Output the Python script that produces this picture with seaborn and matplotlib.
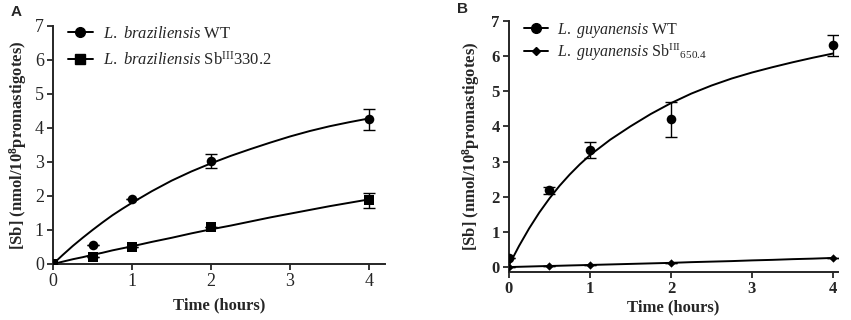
import numpy as np
import matplotlib
matplotlib.use("Agg")
import matplotlib.pyplot as plt
import seaborn as sns
from matplotlib.lines import Line2D

# measured points (mean, sem)
t = [0, 0.5, 1, 2, 4]
a_wt = [0.0, 0.55, 1.92, 3.03, 4.25]
a_wt_err = [0.0, 0.0, 0.0, 0.2, 0.3]
a_sb = [0.0, 0.2, 0.5, 1.1, 1.88]
a_sb_err = [0.0, 0.0, 0.0, 0.0, 0.22]
b_wt = [0.27, 2.18, 3.33, 4.2, 6.3]
b_wt_err = [0.0, 0.1, 0.22, 0.5, 0.31]
b_sb = [0.0, 0.03, 0.05, 0.13, 0.26]
b_sb_err = [0.0, 0.0, 0.0, 0.0, 0.0]

# fitted curves
t_fit = [0, 0.125, 0.25, 0.375, 0.5, 0.625, 0.75, 0.875, 1,
         1.25, 1.5, 1.75, 2, 2.25, 2.5, 2.75, 3, 3.25, 3.5, 3.75, 4]
a_wt_fit = [0.0, 0.27, 0.53, 0.77, 1.0, 1.22, 1.43, 1.62, 1.8,
            2.14, 2.45, 2.72, 2.96, 3.18, 3.38, 3.57, 3.75, 3.91, 4.05, 4.17, 4.28]
a_sb_fit = [0.0, 0.07, 0.14, 0.2, 0.27, 0.33, 0.4, 0.46, 0.52,
            0.65, 0.77, 0.9, 1.02, 1.13, 1.25, 1.37, 1.48, 1.59, 1.7, 1.8, 1.9]
b_wt_fit = [0.05, 0.6, 1.1, 1.55, 1.95, 2.31, 2.63, 2.92, 3.18,
            3.62, 4.0, 4.35, 4.66, 4.93, 5.16, 5.36, 5.53, 5.68, 5.82, 5.95, 6.07]
b_sb_fit = [0.0, 0.008, 0.016, 0.024, 0.03, 0.038, 0.046, 0.053, 0.06,
            0.075, 0.09, 0.105, 0.12, 0.14, 0.155, 0.17, 0.19, 0.205, 0.225, 0.24, 0.26]

sns.set_style("ticks")
plt.rcParams['font.family'] = ['Liberation Serif', 'DejaVu Serif']
plt.rcParams['mathtext.fontset'] = 'custom'
plt.rcParams['mathtext.rm'] = 'Liberation Serif'
plt.rcParams['mathtext.it'] = 'Liberation Serif:italic'
plt.rcParams['mathtext.bf'] = 'Liberation Serif:bold'

fig = plt.figure(figsize=(8.51, 3.2), dpi=100)
axA = fig.add_axes([0.0623, 0.175, 0.39, 0.744])
axB = fig.add_axes([0.598, 0.15, 0.3866, 0.785])

ylab = r"[Sb] (nmol/10$^{\mathbf{8}}$promastigotes)"


def panel(ax, wt, wt_err, sb, sb_err, wt_fit, sb_fit, sb_marker, sb_s, sb_ms,
          labels, bold_ticks, tick_size, leg_size, leg_y, leg_space, xpad, ypad):
    sns.lineplot(x=t_fit, y=wt_fit, ax=ax, color="black", lw=1.4)
    sns.lineplot(x=t_fit, y=sb_fit, ax=ax, color="black", lw=1.4)
    ax.errorbar(t, wt, yerr=wt_err, fmt="none", ecolor="black", elinewidth=1, capsize=4, capthick=1)
    ax.errorbar(t, sb, yerr=sb_err, fmt="none", ecolor="black", elinewidth=1, capsize=4, capthick=1)
    sns.scatterplot(x=t, y=wt, ax=ax, color="black", marker="o", s=48, edgecolor="black", linewidth=0, zorder=5)
    sns.scatterplot(x=t, y=sb, ax=ax, color="black", marker=sb_marker, s=sb_s, edgecolor="black", linewidth=0, zorder=5)
    sns.despine(ax=ax)
    ax.set_xticks([0, 1, 2, 3, 4])
    ax.set_yticks(range(0, 8))
    ax.tick_params(direction="out", length=4.5, width=1.3, labelsize=tick_size, pad=2)
    for s in ax.spines.values():
        s.set_linewidth(1.4)
    if bold_ticks:
        for lab in ax.get_xticklabels() + ax.get_yticklabels():
            lab.set_fontweight("bold")
    ax.set_xlabel("Time (hours)", fontsize=12, fontweight="bold", labelpad=xpad)
    ax.set_ylabel(ylab, fontsize=12, fontweight="bold", labelpad=ypad)
    handles = [
        Line2D([], [], color="black", lw=1.4, marker="o", ms=7),
        Line2D([], [], color="black", lw=1.4, marker=sb_marker, ms=sb_ms),
    ]
    ax.legend(handles, labels, loc="upper left", frameon=False, fontsize=leg_size,
              handlelength=1.5, handletextpad=0.6, labelspacing=leg_space,
              borderaxespad=0.0, borderpad=0.0, bbox_to_anchor=(0.045, leg_y))


panel(axA, a_wt, a_wt_err, a_sb, a_sb_err, a_wt_fit, a_sb_fit, "s", 48, 7,
      [r"$\it{L.}$ $\it{braziliensis}$ WT", r"$\it{L.}$ $\it{braziliensis}$ Sb$^{\mathrm{III}}$330.2"],
      False, 13, 12, 1.0, 0.55, 5, 4)
axA.set_xlim(0, 4.2)
axA.set_ylim(0, 7)

panel(axB, b_wt, b_wt_err, b_sb, b_sb_err, b_wt_fit, b_sb_fit, "D", 18, 4.5,
      [r"$\it{L.}$ $\it{guyanensis}$ WT", r"$\it{L.}$ $\it{guyanensis}$ Sb$^{\mathrm{III}}$$_{650.4}$"],
      True, 12, 11.5, 1.0, 0.1, 2, 7)
axB.set_xlim(0, 4.06)
axB.set_ylim(-0.14, 7)

fig.text(0.012, 0.95, "A", fontsize=11, fontweight="bold", family="Liberation Sans")
fig.text(0.537, 0.96, "B", fontsize=11, fontweight="bold", family="Liberation Sans")

fig.savefig("out.png", dpi=100)
